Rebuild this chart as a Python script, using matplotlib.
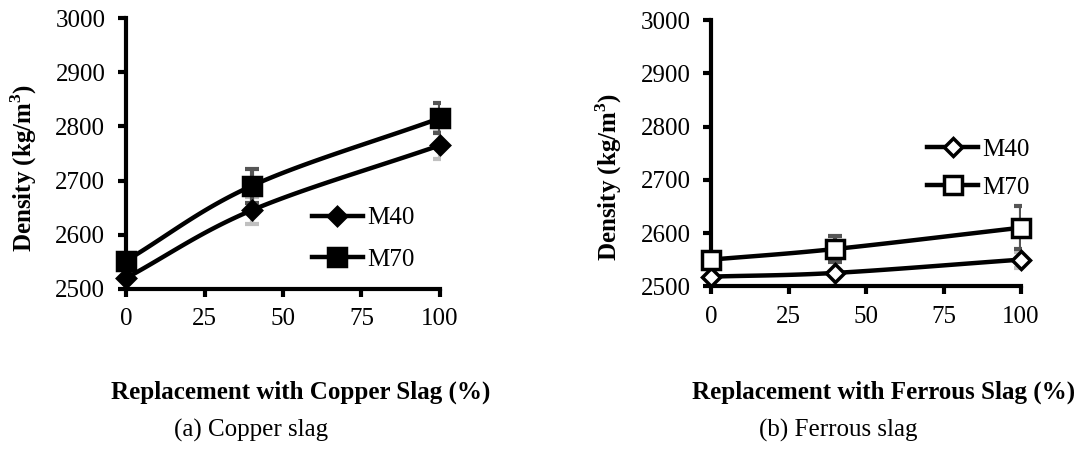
import numpy as np
import matplotlib
matplotlib.use("Agg")
import matplotlib.pyplot as plt

plt.rcParams['font.family'] = ['Liberation Serif', 'DejaVu Serif']
plt.rcParams['mathtext.fontset'] = 'custom'
plt.rcParams['mathtext.rm'] = 'Liberation Serif'
plt.rcParams['mathtext.bf'] = 'Liberation Serif:bold'

# data
x = [0, 40, 100]
cu_m40 = [2520, 2645, 2765]
cu_m40_err = [5, 25, 25]
cu_m70 = [2552, 2690, 2815]
cu_m70_err = [10, 32, 28]
fe_m40 = [2518, 2525, 2550]
fe_m40_err = [5, 25, 15]
fe_m70 = [2550, 2570, 2610]
fe_m70_err = [8, 25, 40]
xticks = [0, 25, 50, 75, 100]
yticks = [2500, 2600, 2700, 2800, 2900, 3000]
FS = 18


def smooth(xs, ys, n=40):
    # bezier curve through the points, like Excel's smoothed line
    xs = np.asarray(xs, float)
    ys = np.asarray(ys, float)
    px = np.concatenate([[2 * xs[0] - xs[1]], xs, [2 * xs[-1] - xs[-2]]])
    py = np.concatenate([[2 * ys[0] - ys[1]], ys, [2 * ys[-1] - ys[-2]]])
    ox, oy = [], []
    t = np.linspace(0, 1, n)
    for i in range(1, len(px) - 2):
        for p, out in ((px, ox), (py, oy)):
            p0, p1, p2, p3 = p[i - 1], p[i], p[i + 1], p[i + 2]
            c1 = p1 + (p2 - p0) / 6
            c2 = p2 - (p3 - p1) / 6
            out.extend((1 - t) ** 3 * p1 + 3 * (1 - t) ** 2 * t * c1
                       + 3 * (1 - t) * t ** 2 * c2 + t ** 3 * p2)
    return ox, oy


def panel(ax, m40, e40, m70, e70, fill, xlabel, legpos, lspace, xlc, ylc):
    ax.errorbar(x, m40, yerr=e40, fmt='none', ecolor='#c0c0c0', elinewidth=3,
                capsize=5, capthick=3, zorder=2)
    ax.errorbar(x, m70, yerr=e70, fmt='none', ecolor='#555555', elinewidth=3,
                capsize=5, capthick=3, zorder=2)
    for ys, mk, ms, lab in ((m40, 'D', 9.5, 'M40'), (m70, 's', 13, 'M70')):
        sx, sy = smooth(x, ys)
        ax.plot(sx, sy, color='black', lw=3.2, zorder=3, clip_on=False)
        ax.plot(x, ys, ls='none', marker=mk, ms=ms, mfc=fill, mec='black',
                mew=2.5, zorder=4, clip_on=False)
        ax.plot([], [], color='black', lw=3.2, marker=mk, ms=ms, mfc=fill,
                mec='black', mew=2.5, label=lab)
    ax.set_xlim(0, 100)
    ax.set_ylim(2500, 3000)
    ax.set_xticks(xticks)
    ax.set_yticks(yticks)
    ax.spines['top'].set_visible(False)
    ax.spines['right'].set_visible(False)
    ax.spines['left'].set_linewidth(3)
    ax.spines['bottom'].set_linewidth(3)
    ax.tick_params(width=3, length=6, labelsize=FS)
    ax.tick_params(axis='y', pad=9)
    ax.tick_params(axis='x', pad=8)
    ax.set_ylabel(r'Density (kg/m$^\mathbf{3}$)', fontsize=FS, fontweight='bold',
                  va='center')
    ax.yaxis.set_label_coords(*ylc)
    ax.set_xlabel(xlabel, fontsize=FS, fontweight='bold', va='center')
    ax.xaxis.set_label_coords(*xlc)
    ax.legend(loc='center left', bbox_to_anchor=legpos, frameon=False,
              fontsize=FS, handlelength=2.05, handletextpad=0.16,
              labelspacing=lspace, borderpad=0, borderaxespad=0)


fig = plt.figure(figsize=(10.78, 4.5), dpi=100)
ax1 = fig.add_axes([0.117, 0.358, 0.291, 0.602])
ax2 = fig.add_axes([0.66, 0.364, 0.287, 0.591])

panel(ax1, cu_m40, cu_m40_err, cu_m70, cu_m70_err, 'black',
      'Replacement with Copper Slag (%)', (0.592, 0.185), 0.75,
      (0.557, -0.38), (-0.328, 0.446))
panel(ax2, fe_m40, fe_m40_err, fe_m70, fe_m70_err, 'white',
      'Replacement with Ferrous Slag (%)', (0.697, 0.442), 0.62,
      (0.555, -0.398), (-0.332, 0.41))

fig.text(251 / 1078, 1 - 430 / 450, '(a) Copper slag', fontsize=FS,
         ha='center', va='center')
fig.text(838 / 1078, 1 - 430 / 450, '(b) Ferrous slag', fontsize=FS,
         ha='center', va='center')

fig.savefig('out.png', dpi=100)
